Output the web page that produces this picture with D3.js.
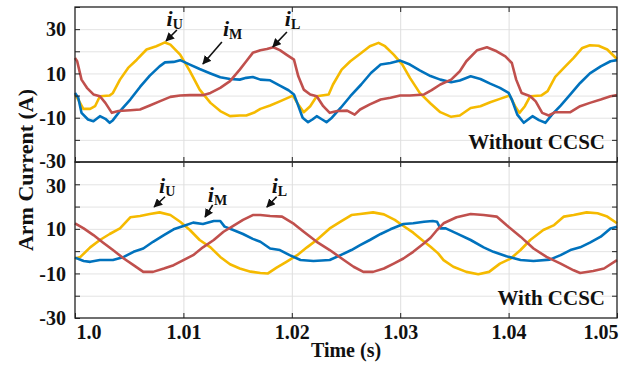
<!DOCTYPE html>
<html>
<head>
<meta charset="utf-8">
<script src="https://cdn.jsdelivr.net/npm/d3@7"></script>
<style>
  body { margin: 0; background: #fff; }
  text { font-family: "Liberation Serif", "Times New Roman", serif; font-weight: bold; }
</style>
</head>
<body>
<div id="graph"></div>
<script>
const width = 633;
const height = 367;

// [time offset in ms from 1.0 s, current in A]
const top_u = [[0,0.4],[0.3,-1.8],[0.77,-6],[1.4,-6],[1.85,-4.8],[2.3,-0.3],[3.2,0],[3.5,1.2],[4.15,7.2],[4.9,12.5],[5.7,16.2],[6.6,20.8],[7.5,22.3],[8.3,24],[8.8,23],[9.7,18.5],[10.6,11],[11.5,2.7],[12.5,-3.3],[13.4,-7],[14.3,-9.3],[15.2,-9],[15.8,-9],[16.6,-7.5],[17.1,-6],[18.0,-4.5],[18.9,-2.6],[20.1,0],[20.5,-3.3],[21.1,-7.5],[21.7,-4.8],[22.3,-0.3],[23.4,0.5],[23.8,5],[24.6,11.7],[25.4,15.5],[26.4,19.2],[27.2,22.3],[28.0,23.8],[28.6,22.3],[29.4,18.5],[30.2,14],[30.9,8],[31.8,1.2],[32.8,-3.6],[33.7,-7.5],[34.7,-9.6],[35.5,-9],[36.5,-5.6],[37.4,-4.8],[38.3,-3],[39.2,-1.5],[40.1,0],[40.6,-4.8],[41.0,-7.8],[41.5,-4.8],[42.0,-0.3],[43.0,0],[43.6,2],[44.3,8.4],[45.1,12.5],[46.0,17],[46.8,21.5],[47.5,22.7],[48.3,22.5],[49.1,20.8],[50,16.5]];
const top_m = [[0,1.2],[0.3,-1],[0.6,-7.8],[1.2,-10.8],[1.7,-11.6],[2.3,-9.3],[2.8,-10.5],[3.2,-12.3],[3.5,-11.1],[4.15,-7],[5.1,-1.8],[6.0,3.9],[6.9,9],[7.8,13.2],[8.3,15],[9.1,15.2],[9.7,16],[10.6,14],[11.5,12],[12.5,10],[13.4,8.3],[14.3,7.5],[15.2,7.2],[15.8,8],[16.4,8.4],[17.1,7.2],[18.0,6.9],[18.9,4.5],[19.7,2.4],[20.2,0.5],[20.5,-3.3],[21.0,-10],[21.5,-12],[21.9,-10.8],[22.3,-9.3],[22.8,-10.8],[23.2,-12],[23.7,-10],[24.5,-5.6],[25.4,-0.3],[26.4,5],[27.3,10.2],[28.2,14],[29.1,14.7],[30.0,15.8],[30.9,14],[31.8,11.4],[32.8,8.8],[33.7,7.2],[34.7,6],[35.5,6.8],[36.5,8.7],[37.4,7.5],[38.3,5.4],[39.2,3.5],[40.0,1.2],[40.3,-1.8],[40.8,-8.6],[41.4,-12.3],[41.8,-10.8],[42.2,-9.3],[42.8,-11.1],[43.4,-12.3],[44.0,-8.6],[44.8,-4.5],[45.7,0.5],[46.6,5.7],[47.5,10],[48.5,13.2],[49.4,15.5],[50,16]];
const top_l = [[0,17],[0.2,15.5],[0.6,7.2],[1.1,3.5],[1.7,0.5],[2.3,-0.3],[2.8,-3.3],[3.4,-7.8],[4.0,-7],[5.1,-6.6],[6.0,-6.3],[6.9,-4.5],[7.8,-2.6],[8.8,-0.6],[9.7,0],[10.6,0.2],[11.8,0.2],[12.5,1.2],[13.4,3.5],[14.3,6.5],[15.2,11.7],[15.8,15.5],[16.4,19.3],[17.1,20.5],[17.7,21],[18.3,21.8],[18.9,20.5],[19.5,18.5],[20.2,16.2],[20.6,8.7],[21.1,2.7],[21.7,0.5],[22.3,-0.3],[22.9,-4.8],[23.5,-7.8],[24.2,-7],[25.1,-6.8],[25.8,-8.6],[26.3,-6.3],[27.2,-4],[28.2,-1.8],[29.1,-1],[30.0,0],[30.9,0],[32.2,0.5],[32.9,2.5],[33.7,5],[34.7,7.2],[35.5,11],[36.1,15.5],[37.1,20.5],[38.0,21.8],[38.9,20],[39.7,17.7],[40.3,14.7],[40.7,7.2],[41.2,1.2],[42.0,-0.3],[42.5,-2.6],[43.1,-7.8],[43.7,-9],[44.3,-7.5],[45.7,-7.5],[46.6,-4.8],[47.5,-3.3],[48.5,-1.8],[49.4,-0.3],[50,0.2]];

const bot_u = [[0,-3.3],[0.5,-2.6],[1.4,1.7],[2.3,5],[3.2,7.7],[4.15,10.2],[5.1,15.2],[6.0,15.8],[6.9,16.7],[7.8,17.4],[8.8,16.2],[9.7,13.2],[10.6,9.5],[11.5,5],[12.5,1.7],[13.4,-2.6],[14.3,-5.9],[15.2,-7.8],[16.2,-9.2],[17.1,-9.8],[17.8,-10],[18.6,-7.4],[19.5,-4.8],[20.5,-1.8],[21.4,1.7],[22.3,5],[23.5,10.2],[24.5,13.2],[25.5,16.2],[26.3,16.7],[27.5,17.4],[28.5,16.5],[29.5,14],[30.3,11.3],[31.2,8.3],[32.1,4.7],[32.8,2],[33.5,-1],[34.0,-4],[34.9,-7],[36.1,-9.3],[37.2,-10.4],[38.2,-9.3],[39.2,-5.6],[40.2,-3.3],[41.1,0.5],[42.0,5],[43.2,9.5],[44.2,11.7],[45.1,15.5],[46.0,16.2],[47.2,17.4],[48.2,17],[49.1,15.5],[50,12.5]];
const bot_m = [[0,-2.9],[0.8,-4.4],[1.4,-4.8],[2.3,-4],[3.5,-4],[4.5,-2.6],[5.4,-0.3],[6.3,1.2],[7.2,4.2],[8.2,7.2],[9.1,9.8],[10.0,11.3],[10.9,12.8],[11.8,12.2],[12.8,13.5],[13.4,13.5],[13.8,11],[14.6,9.5],[15.5,7.7],[16.4,5.5],[17.1,4.2],[18.0,1.2],[18.9,0.5],[19.8,-1.8],[20.8,-4],[22.0,-4.4],[23.5,-4],[24.5,-1.8],[25.5,0.5],[26.3,2.7],[27.2,5],[28.2,7.7],[29.1,9.8],[30.3,12.2],[31.2,12.5],[32.2,13.2],[33.0,13.5],[33.4,13.2],[33.7,10.2],[34.2,10.2],[35.2,8],[36.5,5],[37.7,1.7],[38.6,-0.3],[39.8,-2.3],[41.1,-4],[42.3,-4.4],[43.8,-3.8],[44.8,-1.8],[45.7,0.5],[46.6,1.7],[47.5,3.8],[48.5,6.5],[49.4,10.2],[50,11]];
const bot_l = [[0,12.5],[0.8,10.2],[1.7,7.2],[2.6,3.8],[3.5,0.5],[4.5,-3.3],[5.4,-6.3],[6.3,-9.3],[7.2,-9.3],[8.2,-7.8],[9.1,-6.3],[10.0,-4],[10.9,-1.8],[11.8,1.7],[12.8,5],[13.7,8.7],[14.6,11.3],[15.5,14],[16.4,16.2],[17.1,16.2],[18.0,15.8],[19.1,15.5],[20.2,12.2],[21.1,8.7],[22.3,4.2],[23.5,0.5],[24.8,-4],[25.7,-7],[26.6,-9.3],[27.5,-9.3],[28.5,-7.8],[29.4,-5.6],[30.3,-3.3],[31.2,-0.3],[32.2,3.5],[32.8,6],[33.4,9.5],[34.0,12.5],[35.2,15.2],[36.5,16.7],[37.7,16.2],[38.9,15.5],[39.8,11.7],[41.1,6.5],[42.3,1.2],[43.5,-2.6],[44.8,-5.6],[46.0,-8.6],[46.6,-9.8],[47.8,-8.9],[48.8,-7.8],[50,-4]];

const y_labels = [30, 10, -10, -30];
const x_ticks = [1.0, 1.01, 1.02, 1.03, 1.04, 1.05];
const x_tick_labels = ["1.0", "1.01", "1.02", "1.03", "1.04", "1.05"];
const panel_titles = ["Without CCSC", "With CCSC"];
const colors = ["#F5BA00", "#0072BD", "#C0504D"];

// annotation: sub, label pos (ms, A), arrow tail (ms, A), arrow tip (ms, A)
const top_notes = [
  { sub: "U", lx: 8.45, ly: 31.4, tx: 9.4, ty: 29.6, hx: 8.4, hy: 24.7 },
  { sub: "M", lx: 13.65, ly: 27.1, tx: 13.55, ty: 24.2, hx: 11.8, hy: 14.3 },
  { sub: "L", lx: 19.35, ly: 31.4, tx: 19.55, ty: 28.7, hx: 18.25, hy: 22.0 }
];
const bot_notes = [
  { sub: "U", lx: 7.75, ly: 26.2, tx: 8.3, ty: 24.4, hx: 7.3, hy: 19.8 },
  { sub: "M", lx: 12.25, ly: 22.2, tx: 12.7, ty: 20.7, hx: 12.0, hy: 15.3 },
  { sub: "L", lx: 18.15, ly: 26.2, tx: 18.6, ty: 24.4, hx: 17.7, hy: 19.8 }
];

const left = 75, right = 617;
const panels = [
  { top: 7, bottom: 162, data: [top_u, top_m, top_l], notes: top_notes, title: panel_titles[0] },
  { top: 162, bottom: 318, data: [bot_u, bot_m, bot_l], notes: bot_notes, title: panel_titles[1] }
];

const x = d3.scaleLinear().domain([1.0, 1.05]).range([left, right]);
const t_of = ms => 1 + ms / 1000;

const svg = d3.select('#graph').append('svg')
  .attr('width', width)
  .attr('height', height);

svg.append('defs').append('marker')
  .attr('id', 'head')
  .attr('viewBox', '0 0 10 10')
  .attr('refX', 9).attr('refY', 5)
  .attr('markerWidth', 5.5).attr('markerHeight', 5.5)
  .attr('orient', 'auto')
  .append('path').attr('d', 'M0,0L10,5L0,10z').attr('fill', '#111');

function style_axis(g) {
  g.select('.domain').remove();
  g.selectAll('.tick line').attr('stroke', '#222').attr('stroke-width', 1);
}

panels.forEach((p, pi) => {
  const y = d3.scaleLinear().domain([-30, 40]).range([p.bottom, p.top]);
  const g = svg.append('g');

  // grid
  g.append('g').attr('transform', `translate(${left},0)`)
    .call(d3.axisLeft(y).tickValues(d3.range(-20, 40, 10)).tickSize(-(right - left)).tickFormat(''))
    .call(a => { a.select('.domain').remove(); a.selectAll('line').attr('stroke', '#e3e3e3').attr('stroke-width', 1); });
  g.append('g').attr('transform', `translate(0,${p.bottom})`)
    .call(d3.axisBottom(x).tickValues(x_ticks.slice(1, -1)).tickSize(-(p.bottom - p.top)).tickFormat(''))
    .call(a => { a.select('.domain').remove(); a.selectAll('line').attr('stroke', '#dedede').attr('stroke-width', 1); });

  // curves
  const line = d3.line().x(d => x(t_of(d[0]))).y(d => y(d[1]));
  p.data.forEach((s, si) => {
    g.append('path').attr('d', line(s))
      .attr('fill', 'none').attr('stroke', colors[si])
      .attr('stroke-width', 2.6).attr('stroke-linejoin', 'round');
  });

  // ticks
  const yl = g.append('g').attr('transform', `translate(${left},0)`)
    .call(d3.axisLeft(y).tickValues(d3.range(-30, 41, 10)).tickSize(-5).tickPadding(9)
      .tickFormat(d => y_labels.includes(d) ? String(d) : ''))
    .call(style_axis);
  yl.selectAll('text').attr('fill', '#111').attr('font-size', 20).attr('dy', '0.34em');
  if (pi === 0) yl.selectAll('text').filter(d => d === -30).attr('dy', '0.25em');
  if (pi === 1) yl.selectAll('text').filter(d => d === 30).attr('dy', '0.4em');
  g.append('g').attr('transform', `translate(${right},0)`)
    .call(d3.axisRight(y).tickValues(d3.range(-20, 40, 10)).tickSize(-5).tickFormat(''))
    .call(style_axis);
  g.append('g').attr('transform', `translate(0,${p.top})`)
    .call(d3.axisTop(x).tickValues(x_ticks.slice(1, -1)).tickSize(-5).tickFormat(''))
    .call(style_axis);
  const xb = g.append('g').attr('transform', `translate(0,${p.bottom})`)
    .call(d3.axisBottom(x).tickValues(x_ticks).tickSize(-5).tickPadding(7)
      .tickFormat((d, i) => pi === 1 ? x_tick_labels[i] : ''))
    .call(style_axis);
  xb.selectAll('text').attr('fill', '#111').attr('font-size', 20).attr('dy', '0.71em');
  xb.selectAll('.tick').filter(d => d === 1.0).select('text').attr('text-anchor', 'start').attr('x', 1);
  xb.selectAll('.tick').filter(d => d === 1.05).select('text').attr('text-anchor', 'end').attr('x', 1);

  // frame
  g.append('rect')
    .attr('x', left).attr('y', p.top)
    .attr('width', right - left).attr('height', p.bottom - p.top)
    .attr('fill', 'none').attr('stroke', '#222').attr('stroke-width', 1.3);

  // panel title
  g.append('text')
    .attr('x', right - 12).attr('y', y(-30) - 13)
    .attr('text-anchor', 'end').attr('font-size', 21).attr('fill', '#111')
    .text(p.title);

  // annotations
  p.notes.forEach(n => {
    g.append('line')
      .attr('x1', x(t_of(n.tx))).attr('y1', y(n.ty))
      .attr('x2', x(t_of(n.hx))).attr('y2', y(n.hy))
      .attr('stroke', '#111').attr('stroke-width', 1.6)
      .attr('marker-end', 'url(#head)');
    const t = g.append('text')
      .attr('x', x(t_of(n.lx))).attr('y', y(n.ly))
      .attr('fill', '#111');
    t.append('tspan').attr('font-style', 'italic').attr('font-size', 22).text('i');
    t.append('tspan').attr('font-size', 14).attr('dy', 3).text(n.sub);
  });
});

svg.append('text')
  .attr('x', (left + right) / 2).attr('y', 357)
  .attr('text-anchor', 'middle').attr('font-size', 20).attr('fill', '#111')
  .text('Time (s)');

svg.append('text')
  .attr('transform', `translate(33,170) rotate(-90)`)
  .attr('text-anchor', 'middle').attr('font-size', 22).attr('fill', '#111')
  .text('Arm Current (A)');
</script>
</body>
</html>
